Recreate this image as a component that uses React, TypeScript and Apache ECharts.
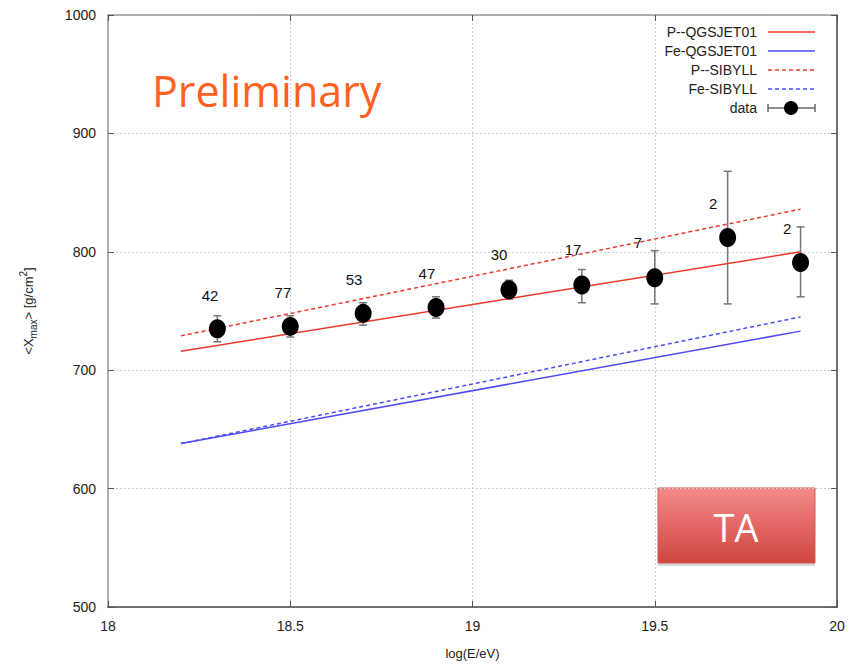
import React, { useEffect, useRef } from "react";
import * as echarts from "echarts";

const energy = [18.3, 18.5, 18.7, 18.9, 19.1, 19.3, 19.5, 19.7, 19.9];
const xmax = [735, 737, 748, 753, 768, 772, 778, 812, 791];
const errLow = [724, 728, 738, 744, 760, 757, 756, 756, 762];
const errHigh = [746, 746, 757, 762, 776, 785, 801, 868, 821];
const counts = [42, 77, 53, 47, 30, 17, 7, 2, 2];
const countLabelX = [18.28, 18.48, 18.675, 18.875, 19.073, 19.276, 19.454, 19.66, 19.863];
const countLabelY = [763, 765.5, 776.5, 781.5, 797.5, 802, 808, 840.5, 819.5];

const modelX = [18.2, 19.9];
const pQgsjet = [716, 800];
const feQgsjet = [638, 733];
const pSibyll = [729, 836];
const feSibyll = [638, 745];

const legendNames = ["P--QGSJET01", "Fe-QGSJET01", "P--SIBYLL", "Fe-SIBYLL", "data"];

const RED = "#e8392a";
const BLUE = "#4c4cf5";
const FONT = "Liberation Sans, Arial, sans-serif";

export default function App() {
  const ref = useRef<HTMLDivElement>(null);
  useEffect(() => {
    if (!ref.current) return;
    const chart = echarts.init(ref.current, null, { renderer: "svg" });
    const pair = (ys: number[]) => modelX.map((x, i) => [x, ys[i]]);
    const legendY = [32, 51, 70, 89, 108];
    const legendStyles = [
      { color: RED, dash: "solid" },
      { color: BLUE, dash: "solid" },
      { color: RED, dash: [4, 3] },
      { color: BLUE, dash: [4, 3] },
    ];
    const legendGraphics: any[] = [];
    legendNames.forEach((n, i) => {
      legendGraphics.push({
        type: "text",
        x: 757,
        y: legendY[i],
        style: { text: n, fill: "#222", font: `14px ${FONT}`, align: "right", verticalAlign: "middle" },
      });
      if (i < 4) {
        legendGraphics.push({
          type: "line",
          shape: { x1: 768, y1: legendY[i], x2: 815, y2: legendY[i] },
          style: { stroke: legendStyles[i].color, lineWidth: 1.5, lineDash: legendStyles[i].dash },
        });
      } else {
        legendGraphics.push(
          { type: "line", shape: { x1: 768, y1: legendY[i], x2: 815, y2: legendY[i] }, style: { stroke: "#666", lineWidth: 1.5 } },
          { type: "line", shape: { x1: 768, y1: legendY[i] - 4, x2: 768, y2: legendY[i] + 4 }, style: { stroke: "#666", lineWidth: 1.5 } },
          { type: "line", shape: { x1: 815, y1: legendY[i] - 4, x2: 815, y2: legendY[i] + 4 }, style: { stroke: "#666", lineWidth: 1.5 } },
          { type: "circle", shape: { cx: 791, cy: legendY[i], r: 7 }, style: { fill: "#000" } }
        );
      }
    });

    chart.setOption({
      animation: false,
      backgroundColor: "#fff",
      grid: { left: 108, right: 22, top: 15, bottom: 57 },
      xAxis: [
        {
          type: "value",
          min: 18,
          max: 20,
          interval: 0.5,
          position: "bottom",
          name: "log(E/eV)",
          nameLocation: "middle",
          nameGap: 40,
          nameTextStyle: { color: "#222", fontSize: 13, fontFamily: FONT },
          axisLine: { lineStyle: { color: "#444", width: 1.5 } },
          axisTick: { inside: true, length: 6, lineStyle: { color: "#555" } },
          axisLabel: { color: "#222", fontSize: 14, fontFamily: FONT, margin: 12 },
          splitLine: { show: true, lineStyle: { color: "#ccc", type: [2, 2] } },
        },
        {
          type: "value",
          min: 18,
          max: 20,
          interval: 0.5,
          position: "top",
          axisLine: { lineStyle: { color: "#999", width: 1.5 } },
          axisTick: { inside: true, length: 6, lineStyle: { color: "#555" } },
          axisLabel: { show: false },
          splitLine: { show: false },
        },
      ],
      yAxis: [
        {
          type: "value",
          min: 500,
          max: 1000,
          interval: 100,
          position: "left",
          name: "{a|<X}{sub|max}{a|> [g/cm}{sup|2}{a|]}",
          nameLocation: "middle",
          nameGap: 70,
          nameRotate: 90,
          nameTextStyle: {
            rich: {
              a: { fontSize: 13, fontFamily: FONT, color: "#222", verticalAlign: "middle", lineHeight: 20 },
              sub: { fontSize: 10, fontFamily: FONT, color: "#222", verticalAlign: "bottom", lineHeight: 20, padding: [6, 0, 0, 0] },
              sup: { fontSize: 10, fontFamily: FONT, color: "#222", verticalAlign: "top", lineHeight: 20, padding: [0, 0, 8, 0] },
            },
          },
          axisLine: { lineStyle: { color: "#999", width: 1.5 } },
          axisTick: { inside: true, length: 6, lineStyle: { color: "#555" } },
          axisLabel: { color: "#222", fontSize: 14, fontFamily: FONT, margin: 12, formatter: (v: number) => String(v) },
          splitLine: { show: true, lineStyle: { color: "#ccc", type: [2, 2] } },
        },
        {
          type: "value",
          min: 500,
          max: 1000,
          interval: 100,
          position: "right",
          axisLine: { lineStyle: { color: "#444", width: 1.5 } },
          axisTick: { inside: true, length: 6, lineStyle: { color: "#555" } },
          axisLabel: { show: false },
          splitLine: { show: false },
        },
      ],
      series: [
        {
          name: legendNames[0],
          type: "line",
          data: pair(pQgsjet),
          symbol: "none",
          lineStyle: { color: RED, width: 1.5 },
        },
        {
          name: legendNames[1],
          type: "line",
          data: pair(feQgsjet),
          symbol: "none",
          lineStyle: { color: BLUE, width: 1.5 },
        },
        {
          name: legendNames[2],
          type: "line",
          data: pair(pSibyll),
          symbol: "none",
          lineStyle: { color: RED, width: 1.5, type: [4, 3] },
        },
        {
          name: legendNames[3],
          type: "line",
          data: pair(feSibyll),
          symbol: "none",
          lineStyle: { color: BLUE, width: 1.5, type: [4, 3] },
        },
        {
          name: "errors",
          type: "custom",
          data: energy.map((e, i) => [e, errLow[i], errHigh[i]]),
          renderItem: (params: any, api: any) => {
            const x = api.value(0);
            const top = api.coord([x, api.value(2)]);
            const bot = api.coord([x, api.value(1)]);
            const st = { stroke: "#777", lineWidth: 1.5 };
            return {
              type: "group",
              children: [
                { type: "line", shape: { x1: top[0], y1: top[1], x2: bot[0], y2: bot[1] }, style: st },
                { type: "line", shape: { x1: top[0] - 4, y1: top[1], x2: top[0] + 4, y2: top[1] }, style: st },
                { type: "line", shape: { x1: bot[0] - 4, y1: bot[1], x2: bot[0] + 4, y2: bot[1] }, style: st },
              ],
            };
          },
          z: 3,
        },
        {
          name: legendNames[4],
          type: "scatter",
          data: energy.map((e, i) => [e, xmax[i]]),
          symbol: "circle",
          symbolSize: [17, 19],
          itemStyle: { color: "#000", opacity: 1 },
          z: 4,
        },
        {
          name: "counts",
          type: "custom",
          data: countLabelX.map((x, i) => [x, countLabelY[i], counts[i]]),
          renderItem: (params: any, api: any) => {
            const p = api.coord([api.value(0), api.value(1)]);
            return {
              type: "text",
              x: p[0],
              y: p[1],
              style: {
                text: String(api.value(2)),
                fill: "#111",
                font: `15px ${FONT}`,
                align: "center",
                verticalAlign: "middle",
              },
            };
          },
          z: 5,
        },
      ],
      graphic: [
        {
          type: "text",
          x: 152,
          y: 90,
          style: {
            text: "Preliminary",
            fill: "#ff6122",
            font: `43px "Open Sans", sans-serif`,
            verticalAlign: "middle",
          },
        },
        {
          type: "rect",
          shape: { x: 658, y: 491, width: 157, height: 75 },
          style: { fill: "#d9d9d9" },
        },
        {
          type: "rect",
          shape: { x: 658, y: 488, width: 157, height: 75 },
          style: {
            fill: new echarts.graphic.LinearGradient(0, 0, 0, 1, [
              { offset: 0, color: "#f48a8a" },
              { offset: 1, color: "#d0453f" },
            ]),
            stroke: "#d95555",
            lineWidth: 1,
          },
        },
        {
          type: "text",
          x: 736,
          y: 527,
          style: {
            text: "TA",
            fill: "#fff",
            font: `38px "Open Sans", sans-serif`,
            align: "center",
            verticalAlign: "middle",
          },
        },
        ...legendGraphics,
      ],
    });
    return () => chart.dispose();
  }, []);
  return <div ref={ref} style={{ position: "fixed", left: 0, top: 0, width: 859, height: 665 }} />;
}
